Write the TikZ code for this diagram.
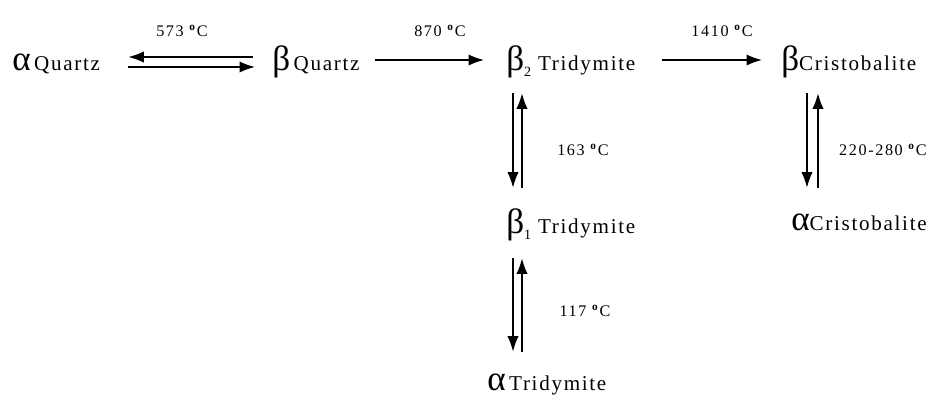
\documentclass[tikz,border=0pt]{standalone}
\usepackage{fontspec}
\setmainfont{Liberation Serif}
\newfontfamily\phasefont[LetterSpace=8]{Liberation Serif}
\newfontfamily\tempfont[LetterSpace=10]{Liberation Serif}
\usetikzlibrary{arrows.meta,calc}
\newcommand{\grk}[1]{{\fontsize{25}{25}\selectfont #1}}
\newcommand{\degC}{ \textsuperscript{\textbf{o}}C}
\tikzset{
  phase/.style={anchor=west, inner sep=0pt, text height=14pt, text depth=6pt,
    font=\phasefont\fontsize{15}{15}\selectfont},
  temp/.style={inner sep=0pt, font=\tempfont\fontsize{11.5}{11.5}\selectfont},
  arr/.style={-{Latex[length=11pt,width=8pt]}, line width=1.1pt}
}
\begin{document}
\begin{tikzpicture}[x=0.025cm, y=-0.025cm]
  \useasboundingbox (0,0) rectangle (936,403);
  % phases
  \node[phase] (aq) at (12,65) {\grk{α}\,Quartz};
  \node[phase] (bq) at (272,65) {\grk{β}\,Quartz};
  \node[phase] (tb2) at (506,65) {\grk{β}{\fontsize{10}{10}\selectfont\raisebox{-4pt}{2}}\ Tridymite};
  \node[phase] (cb) at (781,65) {\grk{β}Cristobalite};
  \node[phase] (tb1) at (506,228) {\grk{β}{\fontsize{10}{10}\selectfont\raisebox{-4pt}{1}}\ Tridymite};
  \node[phase] (ca) at (791,225) {\grk{α}Cristobalite};
  \node[phase] (ta) at (487,385) {\grk{α}\,Tridymite};
  % temperatures
  \node[temp] (t573) at (182,31) {573\degC};
  \node[temp] (t870) at (440,31) {870\degC};
  \node[temp] (t1410) at (722,31) {1410\degC};
  \node[temp] (t163) at (583,150) {163\degC};
  \node[temp] (t117) at (585,311) {117\degC};
  \node[temp] (t220) at (883,150) {220-280\degC};
  % horizontal transitions
  \draw[arr] ($(bq.west)+(-19,-8)$) -- ($(aq.east)+(28,-8)$);
  \draw[arr] ($(aq.east)+(28,2)$) -- ($(bq.west)+(-17,2)$);
  \draw[arr] ($(bq.east)+(15,-5)$) -- ($(tb2.west)+(-22,-5)$);
  \draw[arr] ($(tb2.east)+(26,-5)$) -- ($(cb.west)+(-19,-5)$);
  % tridymite column
  \draw[arr] ($(tb2.south west)+(7,14)$) -- ($(tb1.north west)+(7,-26)$);
  \draw[arr] ($(tb1.north west)+(16,-26)$) -- ($(tb2.south west)+(16,14)$);
  \draw[arr] ($(tb1.south west)+(7,16)$) -- ($(tb1.south west |- ta.north)+(7,-19)$);
  \draw[arr] ($(tb1.south west |- ta.north)+(16,-19)$) -- ($(tb1.south west)+(16,16)$);
  % cristobalite column
  \draw[arr] ($(cb.south west)+(26,14)$) -- ($(cb.south west |- ca.north)+(26,-23)$);
  \draw[arr] ($(cb.south west |- ca.north)+(37,-23)$) -- ($(cb.south west)+(37,14)$);
\end{tikzpicture}
\end{document}
